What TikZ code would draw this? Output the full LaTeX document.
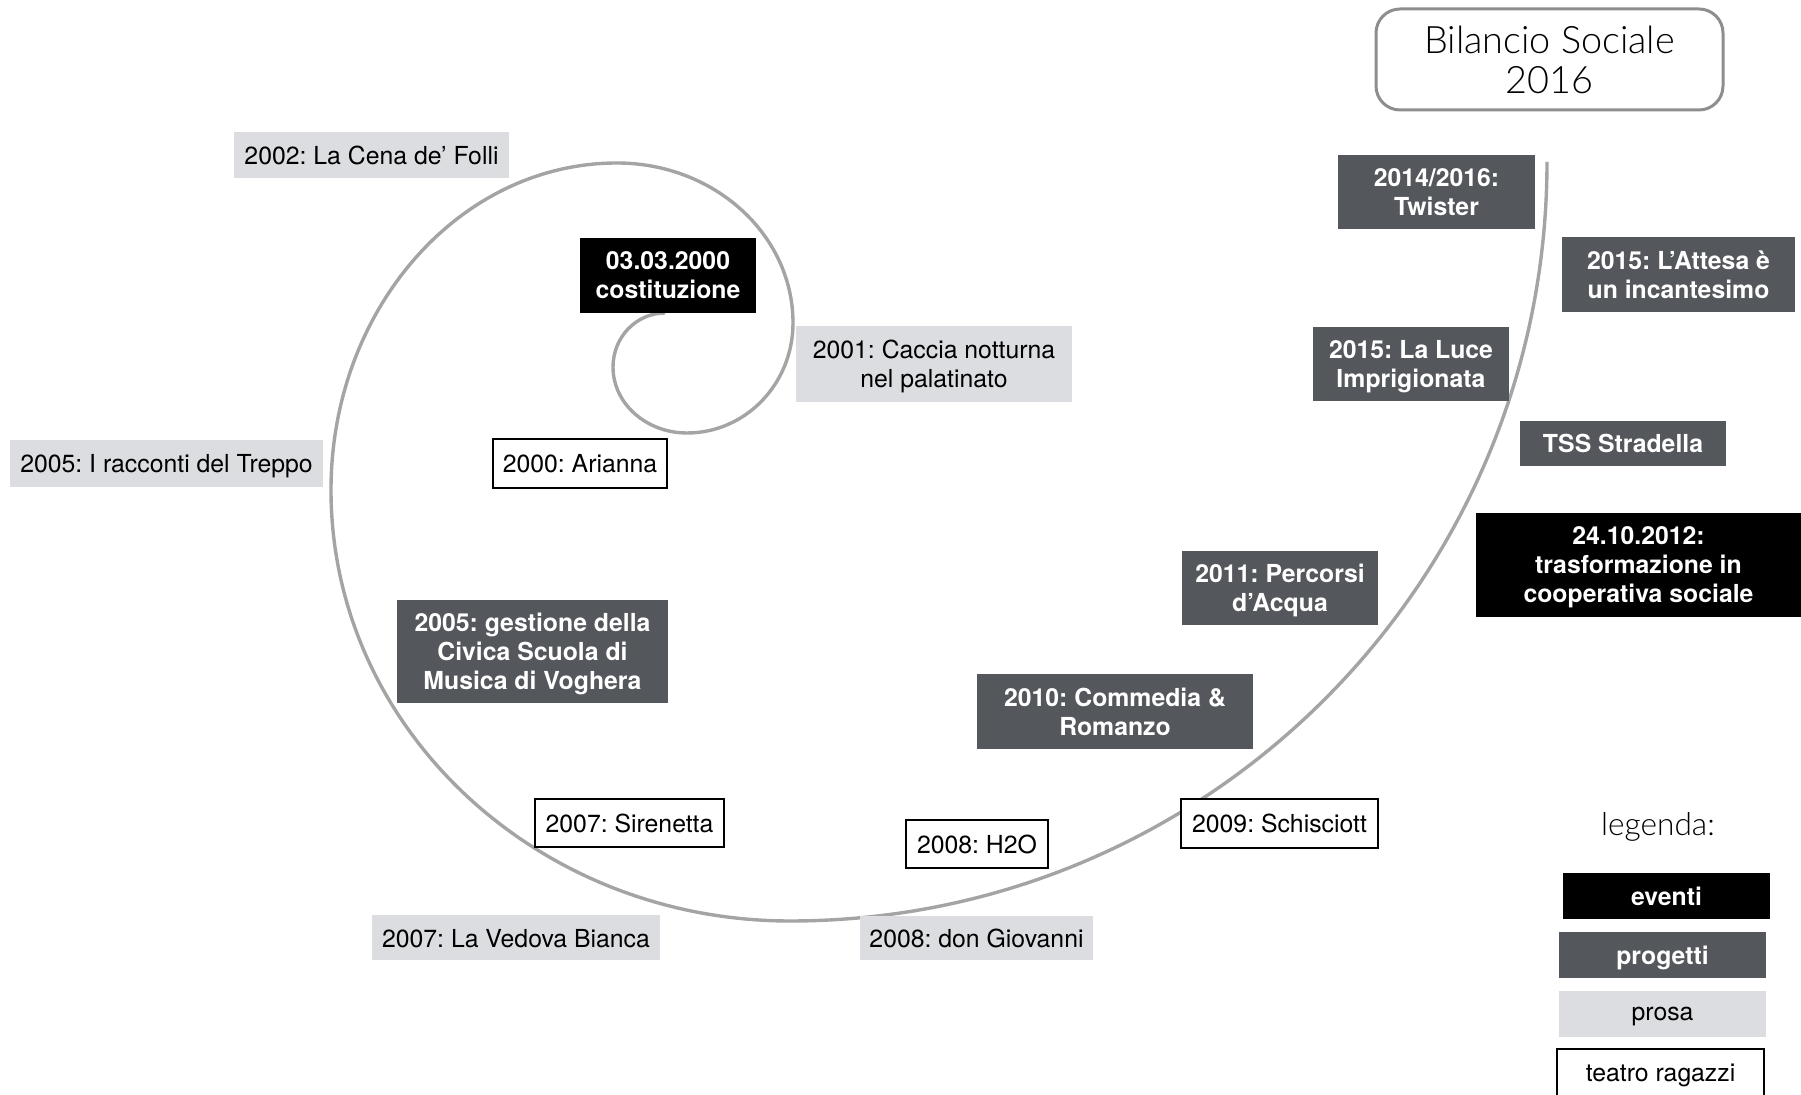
\documentclass[tikz,border=0pt]{standalone}
\usepackage{fontspec}
\setmainfont{TeX Gyre Heros}
\newfontfamily\lightfont{Lato Light}
\frenchspacing
\definecolor{progcol}{HTML}{54575C}
\definecolor{prosacol}{HTML}{DCDDE0}
\definecolor{spiralcol}{HTML}{A4A4A4}
\definecolor{titlecol}{HTML}{8E8E8E}
\begin{document}
\begin{tikzpicture}[x=0.5pt,y=-0.5pt,
  sz/.style 2 args={minimum width=#1*0.5pt, minimum height=#2*0.5pt},
  base/.style={inner sep=0pt, align=center, text depth=0pt, font=\fontsize{12.4}{14.5}\selectfont},
  evento/.style={base, fill=black, text=white, font=\fontsize{12.4}{14.5}\selectfont\bfseries},
  progetto/.style={base, fill=progcol, text=white, font=\fontsize{12.4}{14.5}\selectfont\bfseries},
  prosabox/.style={base, fill=prosacol, text=black},
  ragazzi/.style={base, fill=white, draw=black, line width=1pt},
  spiral/.style={draw=spiralcol, line width=1.7pt},
  titlebox/.style={inner sep=0pt, align=center, draw=titlecol, line width=1.5pt, rounded corners=12pt, fill=white, font=\lightfont\fontsize{18.9}{20}\selectfont}
]
\useasboundingbox (0,0) rectangle (1801,1095);
\clip (0,0) rectangle (1801,1095);

% spiral
\draw[spiral] (665,313)
  arc[start angle=270, end angle=180, x radius=52, y radius=54]
  arc[start angle=180, end angle=90, x radius=74, y radius=66]
  arc[start angle=90, end angle=0, x radius=106, y radius=110]
  arc[start angle=0, end angle=-90, x radius=176, y radius=160]
  arc[start angle=-90, end angle=-180, x radius=286, y radius=327]
  arc[start angle=180, end angle=90, x radius=459, y radius=431]
  arc[start angle=90, end angle=0, x radius=757, y radius=759];

% title
\node[titlebox, sz={347}{101}] (title) at (1549.5,59.5) {Bilancio Sociale\\2016};

% events
\node[evento, sz={176}{75}] (cost) at (668,275.5) {03.03.2000\\costituzione};
\node[evento, sz={325}{104}] (coop) at (1638.5,565) {24.10.2012:\\trasformazione in\\cooperativa sociale};

% projects
\node[progetto, sz={197}{74}] (twister) at (1436.5,192) {2014/2016:\\Twister};
\node[progetto, sz={233}{75}] (attesa) at (1678.5,274.5) {2015: L’Attesa è\\un incantesimo};
\node[progetto, sz={196}{74}] (luce) at (1411,364) {2015: La Luce\\Imprigionata};
\node[progetto, sz={206}{45}] (tss) at (1623,443.5) {TSS Stradella};
\node[progetto, sz={196}{74}] (percorsi) at (1280,588) {2011: Percorsi\\d’Acqua};
\node[progetto, sz={271}{103}] (voghera) at (532.5,651.5) {2005: gestione della\\Civica Scuola di\\Musica di Voghera};
\node[progetto, sz={276}{75}] (commedia) at (1115,711.5) {2010: Commedia \&\\Romanzo};

% prosa
\node[prosabox, sz={275}{46}] (cena) at (371.5,155) {2002: La Cena de’ Folli};
\node[prosabox, sz={276}{76}] (caccia) at (934,364) {2001: Caccia notturna\\nel palatinato};
\node[prosabox, sz={313}{47}] (treppo) at (166.5,463.5) {2005: I racconti del Treppo};
\node[prosabox, sz={288}{45}] (vedova) at (516,938) {2007: La Vedova Bianca};
\node[prosabox, sz={233}{44}] (giovanni) at (976.5,938.5) {2008: don Giovanni};

% teatro ragazzi
\node[ragazzi, sz={174}{49}] (arianna) at (580,463.5) {2000: Arianna};
\node[ragazzi, sz={189}{48}] (sirenetta) at (629.5,823) {2007: Sirenetta};
\node[ragazzi, sz={142}{48}] (h2o) at (977,844) {2008: H2O};
\node[ragazzi, sz={197}{49}] (schisciott) at (1279.5,823.5) {2009: Schisciott};

% legend
\node[inner sep=0pt, font=\lightfont\fontsize{15.8}{18}\selectfont] (legenda) at (1658,827) {legenda:};
\node[evento, sz={207}{46}] (legev) at (1666.5,896) {eventi};
\node[progetto, sz={207}{46}] (legpr) at (1662.5,955) {progetti};
\node[prosabox, sz={207}{46}] (legps) at (1662.5,1014) {prosa};
\node[ragazzi, sz={207}{48}] (legtr) at (1660.5,1073) {teatro ragazzi};
\end{tikzpicture}
\end{document}
